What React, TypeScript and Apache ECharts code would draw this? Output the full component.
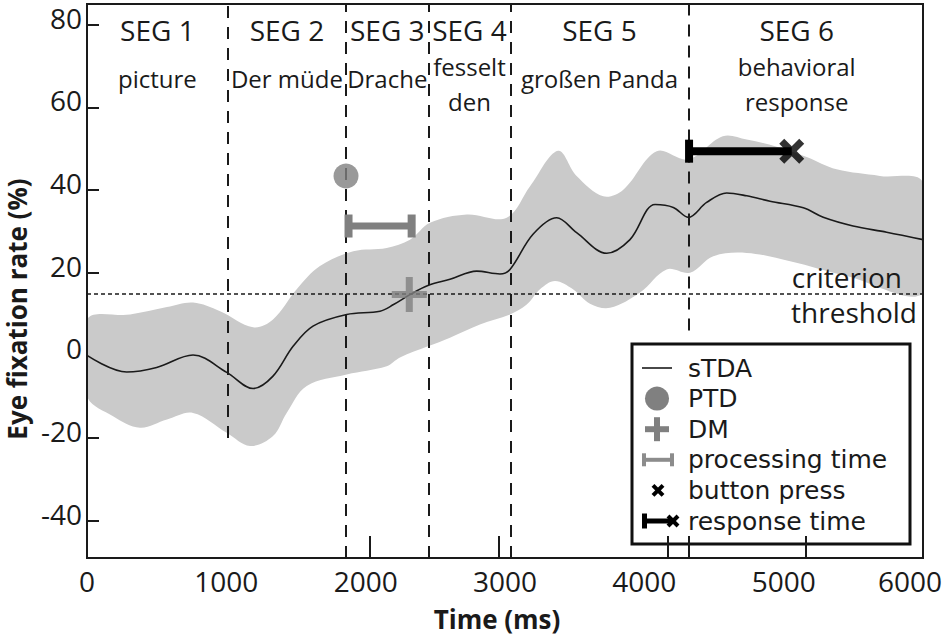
import React, { useEffect, useRef } from 'react';
import * as echarts from 'echarts';

// ---------- data ----------
const xLabelValues = [0, 1000, 2000, 3000, 4000, 5000, 6000];
const xTickMarks = [2031, 2957, 4167, 4316, 5160];
const yTickValues = [-40, -20, 0, 20, 40, 60, 80];

// sTDA mean curve
const meanTime = [0, 285, 500, 761, 1003, 1192, 1335, 1479, 1622, 1864, 2103, 2200, 2318, 2447, 2605, 2797, 2964, 3036, 3201, 3371, 3514, 3730, 3897, 4077, 4208, 4316, 4447, 4591, 4735, 4902, 5141, 5284, 5498, 5739, 6000];
const meanValue = [0, -4.0, -2.9, 0.1, -4.1, -8.0, -5.0, 2.2, 7.1, 9.9, 10.7, 12.3, 14.7, 16.9, 18.4, 20.4, 19.7, 20.8, 29.3, 33.3, 29.7, 24.7, 28.0, 36.5, 35.8, 33.4, 37.0, 39.3, 38.6, 37.3, 35.7, 33.4, 31.3, 29.8, 28.0];

// confidence band upper edge
const upperTime = [0, 309, 574, 761, 955, 1192, 1335, 1505, 1672, 1911, 2151, 2318, 2462, 2725, 3012, 3180, 3380, 3514, 3705, 3849, 4089, 4316, 4563, 4735, 4950, 5165, 5380, 5691, 6000];
const upperValue = [8.7, 9.9, 11.7, 12.8, 10.7, 6.8, 8.7, 16.0, 21.6, 25.2, 26.0, 28.0, 32.1, 34.1, 33.3, 40.9, 49.5, 43.4, 38.5, 40.1, 49.4, 47.4, 53.0, 52.2, 50.5, 48.0, 45.0, 43.4, 41.8];

// confidence band lower edge
const lowerTime = [0, 187, 380, 574, 761, 1003, 1170, 1335, 1433, 1577, 1864, 2151, 2246, 2447, 2605, 2820, 3036, 3156, 3251, 3359, 3488, 3610, 3754, 3969, 4160, 4328, 4495, 4735, 5046, 5452, 6000];
const lowerValue = [-9.8, -14.7, -17.5, -15.5, -13.9, -18.7, -21.9, -19.5, -13.9, -7.4, -4.6, -2.6, -0.5, 2.2, 4.3, 7.5, 9.9, 12.3, 16.0, 18.0, 16.0, 12.5, 11.5, 15.2, 20.8, 20.0, 24.0, 24.8, 22.8, 19.2, 15.2];

// segments
const segBounds = [0, 1010, 1860, 2450, 3040, 4316, 6000];
const segDashBottom = [-20, -49, -49, -49, 6];
const segNames = ['SEG 1', 'SEG 2', 'SEG 3', 'SEG 4', 'SEG 5', 'SEG 6'];
const segWords = [['picture'], ['Der müde'], ['Drache'], ['fesselt', 'den'], ['großen Panda'], ['behavioral', 'response']];

const thresholdValue = 15;
const ptdPoint = [1859, 43.4];
const dmPoint = [2313, 14.75];
const processingTime = [1877, 2330, 31.3]; // start, end, y
const responseTime = [4321, 5058, 49.4]; // start, end, y
const buttonPress = [5058, 49.4];

const legendNames = ['sTDA', 'PTD', 'DM', 'processing time', 'button press', 'response time'];

const X_MIN = 0;
const X_MAX = 6000;
const Y_MIN = -49;
const Y_MAX = 85;

const FONT = '"Open Sans", "Noto Sans", sans-serif';
const LEGEND_FONT = '"DejaVu Sans", "Open Sans", sans-serif';
const INK = '#1a1a1a';
const GRAY = '#808080';
const BAND = '#cacaca';

const PLUS_PATH = 'path://M4,0 H6 V4 H10 V6 H6 V10 H4 V6 H0 V4 H4 Z';
const X_PATH = 'path://M0,2 L2,0 L5,3 L8,0 L10,2 L7,5 L10,8 L8,10 L5,7 L2,10 L0,8 L3,5 Z';

function buildOption(): any {
  const meanData = meanTime.map((t, i) => [t, meanValue[i]]);

  const segLines = segBounds.slice(1, -1).map((x, i) => [
    { coord: [x, segDashBottom[i]] },
    { coord: [x, Y_MAX] },
  ]);
  const thresholdLine = [
    { coord: [X_MIN, thresholdValue], lineStyle: { type: [4, 3], width: 1.6, color: INK } },
    { coord: [X_MAX, thresholdValue] },
  ];

  const segAreas = segNames.map((n, i) => [
    { name: n, xAxis: segBounds[i], label: i === segNames.length - 1 ? { offset: [-9, 0] } : undefined },
    { xAxis: segBounds[i + 1] },
  ]);

  const legendRowY = legendNames.map((_, i) => 368 + i * 30.6);

  return {
    animation: false,
    textStyle: { fontFamily: FONT },
    grid: {
      left: 87,
      right: 27,
      top: 4,
      bottom: 80,
      show: true,
      borderColor: INK,
      borderWidth: 2,
      backgroundColor: 'transparent',
      containLabel: false,
      outerBoundsMode: 'none',
    },
    xAxis: {
      type: 'value',
      min: X_MIN,
      max: X_MAX,
      name: 'Time (ms)',
      nameLocation: 'middle',
      nameGap: 48,
      nameTextStyle: { fontFamily: FONT, fontSize: 26, fontWeight: 'bold', color: INK, padding: [0, 16, 0, 0] },
      axisLine: { show: true, onZero: false, lineStyle: { color: INK, width: 2 } },
      axisTick: { show: true, inside: true, length: 22, customValues: xTickMarks, lineStyle: { color: INK, width: 2 } },
      axisLabel: {
        customValues: xLabelValues,
        margin: 9,
        fontSize: 28,
        fontFamily: FONT,
        color: INK,
        formatter: (v: number) => (v === X_MAX ? '{r|' + v + '}' : String(v)),
        rich: { r: { fontSize: 28, fontFamily: FONT, color: INK, padding: [0, 26, 0, 0] } },
      },
      splitLine: { show: false },
    },
    yAxis: {
      type: 'value',
      min: Y_MIN,
      max: Y_MAX,
      name: '{t|Eye fixation rate (%)}{p| }',
      nameLocation: 'middle',
      nameRotate: 90,
      nameGap: 55,
      nameTextStyle: {
        fontFamily: FONT,
        fontSize: 26,
        fontWeight: 'bold',
        color: INK,
        rich: {
          t: { fontFamily: FONT, fontSize: 26, fontWeight: 'bold', color: INK },
          p: { fontFamily: FONT, fontSize: 26, width: 56 },
        },
      },
      axisLine: { show: true, onZero: false, lineStyle: { color: INK, width: 2 } },
      axisTick: { show: true, inside: true, length: 12, customValues: yTickValues, lineStyle: { color: INK, width: 2 } },
      axisLabel: {
        customValues: yTickValues,
        margin: 5,
        fontSize: 28,
        fontFamily: FONT,
        color: INK,
        verticalAlign: 'bottom',
        lineHeight: 14,
      },
      splitLine: { show: false },
    },
    series: [
      {
        type: 'custom',
        name: 'band',
        silent: true,
        z: 1,
        data: [[X_MIN, 0]],
        encode: { x: 0, y: 1 },
        renderItem: (params: any, api: any) => {
          const pts: number[][] = [];
          upperTime.forEach((t, i) => pts.push(api.coord([t, upperValue[i]])));
          for (let i = lowerTime.length - 1; i >= 0; i--) pts.push(api.coord([lowerTime[i], lowerValue[i]]));
          const cs = params.coordSys;
          return {
            type: 'group',
            clipPath: { type: 'rect', shape: { x: cs.x + 1, y: cs.y + 1, width: cs.width - 2, height: cs.height - 2 } },
            children: [{ type: 'polygon', shape: { points: pts, smooth: 0.35 }, style: { fill: BAND } }],
          };
        },
      },
      {
        type: 'line',
        name: 'sTDA',
        z: 3,
        data: meanData,
        smooth: 0.35,
        showSymbol: false,
        silent: true,
        lineStyle: { color: INK, width: 1.6 },
        markLine: {
          silent: true,
          symbol: ['none', 'none'],
          label: { show: false },
          lineStyle: { color: INK, type: [12, 9], width: 2 },
          data: [...segLines, thresholdLine],
        },
        markArea: {
          silent: true,
          itemStyle: { color: 'transparent' },
          label: {
            show: true,
            position: 'insideTop',
            distance: 6,
            color: INK,
            formatter: (p: any) => {
              const words = segWords[p.dataIndex];
              const style = words.length > 1 ? 'two' : 'one';
              return '{seg|' + segNames[p.dataIndex] + '}\n' + words.map((w) => '{' + style + '|' + w + '}').join('\n');
            },
            rich: {
              seg: { fontSize: 28, lineHeight: 39, fontFamily: FONT, color: INK },
              one: { fontSize: 24, lineHeight: 59, fontFamily: FONT, color: INK },
              two: { fontSize: 24, lineHeight: 35, fontFamily: FONT, color: INK },
            },
          },
          data: segAreas,
        },
      },
      {
        type: 'scatter',
        name: 'PTD',
        z: 5,
        silent: true,
        symbol: 'circle',
        symbolSize: 25,
        itemStyle: { color: GRAY },
        data: [ptdPoint],
      },
      {
        type: 'scatter',
        name: 'DM',
        z: 5,
        silent: true,
        symbol: PLUS_PATH,
        symbolSize: 35,
        itemStyle: { color: GRAY },
        data: [dmPoint],
      },
      {
        type: 'custom',
        name: 'processing time',
        z: 5,
        silent: true,
        data: [processingTime],
        encode: { x: [0, 1], y: 2 },
        renderItem: (params: any, api: any) => {
          const a = api.coord([api.value(0), api.value(2)]);
          const b = api.coord([api.value(1), api.value(2)]);
          return {
            type: 'group',
            children: [
              { type: 'rect', shape: { x: a[0], y: a[1] - 3.5, width: b[0] - a[0], height: 7 }, style: { fill: GRAY } },
              { type: 'rect', shape: { x: a[0] - 4, y: a[1] - 11.5, width: 8, height: 23 }, style: { fill: GRAY } },
              { type: 'rect', shape: { x: b[0] - 4, y: b[1] - 11.5, width: 8, height: 23 }, style: { fill: GRAY } },
            ],
          };
        },
      },
      {
        type: 'custom',
        name: 'response time',
        z: 6,
        silent: true,
        data: [responseTime],
        encode: { x: [0, 1], y: 2 },
        renderItem: (params: any, api: any) => {
          const a = api.coord([api.value(0), api.value(2)]);
          const b = api.coord([api.value(1), api.value(2)]);
          return {
            type: 'group',
            children: [
              { type: 'rect', shape: { x: a[0], y: a[1] - 4, width: b[0] - a[0], height: 8 }, style: { fill: '#000' } },
              { type: 'rect', shape: { x: a[0] - 4, y: a[1] - 11.5, width: 8, height: 23 }, style: { fill: '#000' } },
            ],
          };
        },
      },
      {
        type: 'scatter',
        name: 'button press',
        z: 7,
        silent: true,
        symbol: X_PATH,
        symbolSize: 25,
        itemStyle: { color: '#000' },
        data: [buttonPress],
      },
    ],
    graphic: [
      {
        type: 'text',
        z: 50,
        x: 902,
        y: 277,
        style: { text: 'criterion', fontSize: 28, fontFamily: FONT, fill: INK, align: 'right', verticalAlign: 'middle' },
      },
      {
        type: 'text',
        z: 50,
        x: 917,
        y: 312,
        style: { text: 'threshold', fontSize: 28, fontFamily: FONT, fill: INK, align: 'right', verticalAlign: 'middle' },
      },
      {
        type: 'group',
        z: 100,
        children: [
          { type: 'rect', shape: { x: 632, y: 344, width: 278, height: 200 }, style: { fill: '#fff', stroke: '#111', lineWidth: 3 } },
          { type: 'line', shape: { x1: 642, y1: 368, x2: 672, y2: 368 }, style: { stroke: INK, lineWidth: 1.6 } },
          { type: 'circle', shape: { cx: 657, cy: 398.6, r: 12 }, style: { fill: GRAY } },
          { type: 'rect', shape: { x: 645, y: 426.2, width: 24, height: 6 }, style: { fill: GRAY } },
          { type: 'rect', shape: { x: 654, y: 417.2, width: 6, height: 24 }, style: { fill: GRAY } },
          { type: 'rect', shape: { x: 643, y: 457.8, width: 30, height: 4 }, style: { fill: '#8c8c8c' } },
          { type: 'rect', shape: { x: 642, y: 453.3, width: 4, height: 13 }, style: { fill: '#8c8c8c' } },
          { type: 'rect', shape: { x: 670, y: 453.3, width: 4, height: 13 }, style: { fill: '#8c8c8c' } },
          { type: 'line', shape: { x1: 653, y1: 485.4, x2: 663, y2: 495.4 }, style: { stroke: '#000', lineWidth: 4 } },
          { type: 'line', shape: { x1: 653, y1: 495.4, x2: 663, y2: 485.4 }, style: { stroke: '#000', lineWidth: 4 } },
          { type: 'rect', shape: { x: 643, y: 518.5, width: 30, height: 5 }, style: { fill: '#000' } },
          { type: 'rect', shape: { x: 642, y: 513.5, width: 5, height: 15 }, style: { fill: '#000' } },
          { type: 'line', shape: { x1: 668, y1: 516, x2: 678, y2: 526 }, style: { stroke: '#000', lineWidth: 4 } },
          { type: 'line', shape: { x1: 668, y1: 526, x2: 678, y2: 516 }, style: { stroke: '#000', lineWidth: 4 } },
          ...legendNames.map((t, i) => ({
            type: 'text',
            x: 688,
            y: legendRowY[i],
            style: {
              text: t,
              fontSize: 25,
              fontFamily: LEGEND_FONT,
              fill: INK,
              verticalAlign: 'middle',
              align: 'left',
            },
          })),
        ],
      },
    ],
  };
}

export default function App() {
  const ref = useRef<HTMLDivElement>(null);
  useEffect(() => {
    if (!ref.current) return;
    const chart = echarts.init(ref.current, undefined, { renderer: 'svg' });
    chart.setOption(buildOption());
    return () => chart.dispose();
  }, []);
  return <div ref={ref} style={{ position: 'fixed', left: 0, top: 0, width: 950, height: 638, background: '#fff' }} />;
}
